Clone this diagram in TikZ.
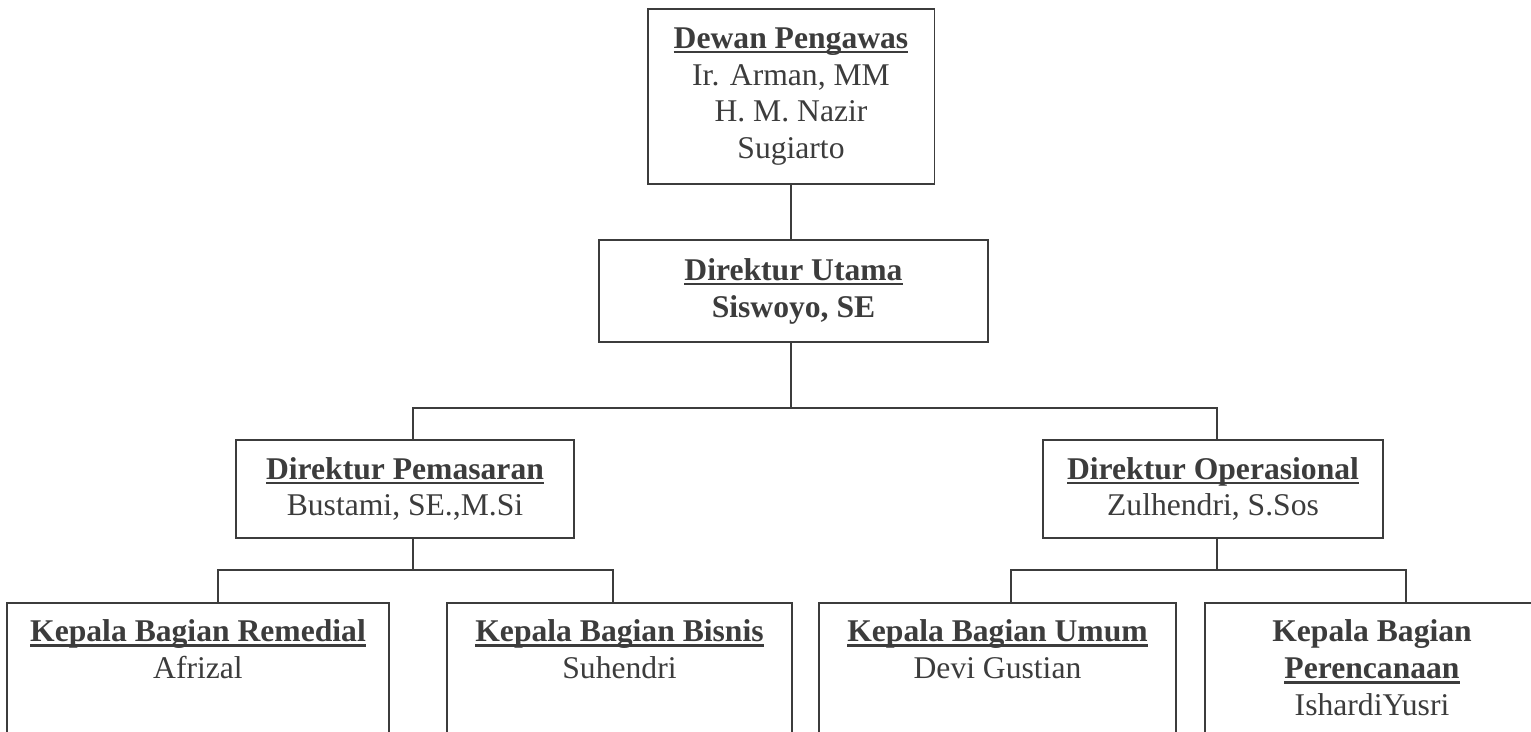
\documentclass[tikz,border=0pt]{standalone}
\usepackage{fontspec}
\setmainfont{Liberation Serif}
\usepackage{xcolor}

\definecolor{tinta}{HTML}{3C3C3C}
% judul: tebal dan bergaris bawah
\newcommand{\judul}[1]{\setbox0\hbox{\textbf{#1}}\rlap{\rule[-3pt]{\wd0}{1.5pt}}\box0}

\tikzset{
	kotak/.style={draw=tinta, line width=1.1pt, text=tinta, align=center, inner xsep=0pt,
		font=\fontsize{18}{21}\selectfont},
	bawah/.style={kotak, anchor=north, inner ysep=0.33cm},
	garis/.style={draw=tinta, line width=1.1pt}
}

\begin{document}
\begin{tikzpicture}[x=0.02cm, y=-0.02cm]
	\useasboundingbox (0,0) rectangle (1531,731);
	\clip (0,0) rectangle (1531,731);
	\node[kotak, minimum width=5.74cm, minimum height=3.5cm] (dewan) at (791,96.5)
		{\judul{Dewan Pengawas}\\Ir. Arman, MM\\H. M. Nazir\\Sugiarto};
	\node[kotak, minimum width=7.78cm, minimum height=2.04cm] (utama) at (793.5,291)
		{\judul{Direktur Utama}\\\textbf{Siswoyo, SE}};
	\node[kotak, minimum width=6.76cm, minimum height=1.96cm] (pemasaran) at (405,489)
		{\judul{Direktur Pemasaran}\\Bustami, SE.,M.Si};
	\node[kotak, minimum width=6.8cm, minimum height=1.96cm] (operasional) at (1213,489)
		{\judul{Direktur Operasional}\\Zulhendri, S.Sos};
	\node[bawah, minimum width=7.64cm] (remedial) at (198,602)
		{\judul{Kepala Bagian Remedial}\\Afrizal\\\rule{0pt}{3cm}};
	\node[bawah, minimum width=6.9cm] (bisnis) at (619.5,602)
		{\judul{Kepala Bagian Bisnis}\\Suhendri\\\rule{0pt}{3cm}};
	\node[bawah, minimum width=7.14cm] (umum) at (997.5,602)
		{\judul{Kepala Bagian Umum}\\Devi Gustian\\\rule{0pt}{3cm}};
	\node[bawah, minimum width=6.68cm] (perencanaan) at (1372,602)
		{\textbf{Kepala Bagian}\\\judul{Perencanaan}\\IshardiYusri\\\rule{0pt}{3cm}};

	\coordinate (b1) at (413,408);
	\coordinate (b2) at (1217,408);
	\coordinate (p1) at (218,570);
	\coordinate (p2) at (613,570);
	\coordinate (o1) at (1011,570);
	\coordinate (o2) at (1406,570);

	\draw[garis] (dewan.south) -- (dewan.south |- utama.north);
	\draw[garis] (utama.south -| dewan.south) -- (dewan.south |- b1);
	\draw[garis] (pemasaran.north -| b1) -- (b1) -- (b2) -- (operasional.north -| b2);
	\draw[garis] (pemasaran.south -| b1) -- (b1 |- p1);
	\draw[garis] (remedial.north -| p1) -- (p1) -- (p2) -- (bisnis.north -| p2);
	\draw[garis] (operasional.south -| b2) -- (b2 |- o1);
	\draw[garis] (umum.north -| o1) -- (o1) -- (o2) -- (perencanaan.north -| o2);
\end{tikzpicture}
\end{document}
